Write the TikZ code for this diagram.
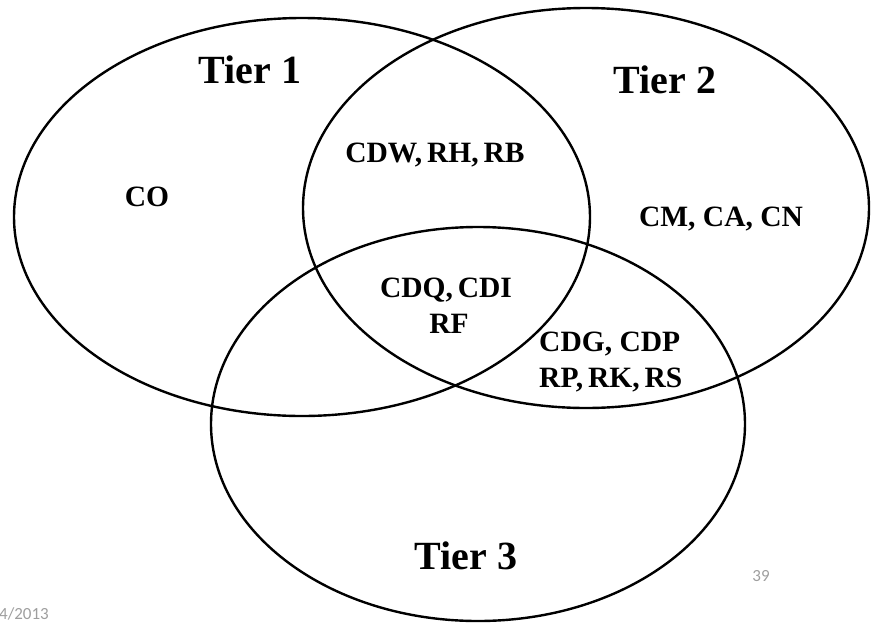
\documentclass[tikz,border=0pt]{standalone}
\usepackage{fontspec}
\newfontfamily\labelfont{Liberation Serif}[BoldFont={Liberation Serif Bold}]
\newfontfamily\slidefont{Carlito}
\begin{document}
\begin{tikzpicture}[x=1pt,y=-1pt,
  ring/.style={draw=black,line width=2.4pt},
  tier/.style={font=\labelfont\bfseries\fontsize{40}{40}\selectfont,anchor=base,inner sep=0pt},
  member/.style={font=\labelfont\bfseries\fontsize{29.5}{29.5}\selectfont,anchor=base,inner sep=0pt},
  footer/.style={font=\slidefont\fontsize{17}{17}\selectfont,text=black!38,anchor=base,inner sep=0pt}]
\useasboundingbox (0,0) rectangle (871,622);
% the three overlapping sets
\draw[ring] (302,217) ellipse [x radius=288, y radius=199];
\draw[ring] (586,208) ellipse [x radius=283, y radius=200];
\draw[ring] (478,424) ellipse [x radius=267, y radius=197];
% set titles
\node[tier] (t1) at (250,83) {Tier 1};
\node[tier] (t2) at (665,93) {Tier 2};
\node[tier] (t3) at (466,569) {Tier 3};
% members of each region
\node[member] (co) at (147,206) {CO};
\node[member] (cm) at (721,226) {CM, CA, CN};
\node[member] (cdw) at (435,162) {CDW,\,RH,\,RB};
\node[member] (cdq) at (446,297) {CDQ,\,CDI};
\node[member] (rf) at (449,333) {RF};
\node[member,anchor=base west] (cdg) at (539,351) {CDG, CDP};
\node[member,anchor=base west] (rp) at (539,387) {RP,\,RK,\,RS};
% slide footer
\node[footer] (page) at (761,581) {39};
\node[footer,anchor=base west] (date) at (-1,619) {4/2013};
\end{tikzpicture}
\end{document}
